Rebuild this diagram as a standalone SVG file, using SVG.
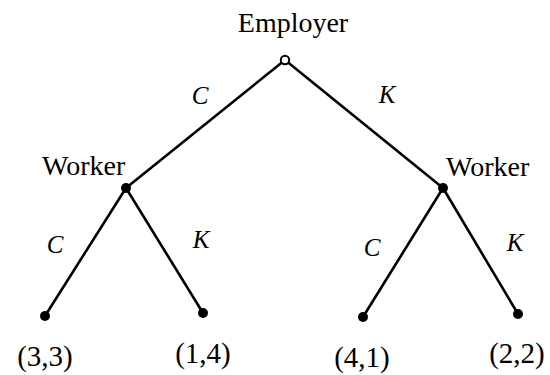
<svg xmlns="http://www.w3.org/2000/svg" width="550" height="375" viewBox="0 0 550 375">
<rect width="550" height="375" fill="#fff"/>
<g id="connectors" stroke="#000" stroke-width="2.6" fill="none">
<line x1="285" y1="60" x2="126" y2="188"/>
<line x1="285" y1="60" x2="443" y2="188"/>
<line x1="126" y1="188" x2="45" y2="316"/>
<line x1="126" y1="188" x2="203" y2="313"/>
<line x1="443" y1="188" x2="363" y2="317"/>
<line x1="443" y1="188" x2="518" y2="314"/>
</g>
<g id="edge-labels" font-family="Liberation Serif" font-size="25" font-style="italic" text-anchor="middle" fill="#000">
<text x="200" y="104">C</text>
<text x="387" y="103">K</text>
<text x="55" y="253">C</text>
<text x="201" y="248">K</text>
<text x="372" y="256">C</text>
<text x="515" y="251">K</text>
</g>
<g id="employer">
<circle cx="285" cy="60" r="4.2" fill="#fff" stroke="#000" stroke-width="2"/>
<text x="293" y="32" font-family="Liberation Serif" font-size="28" text-anchor="middle" fill="#000">Employer</text>
</g>
<g id="worker-left">
<circle cx="126" cy="188" r="5" fill="#000"/>
<text x="42" y="175" font-family="Liberation Serif" font-size="28" fill="#000">Worker</text>
</g>
<g id="worker-right">
<circle cx="443" cy="188" r="5" fill="#000"/>
<text x="446" y="176" font-family="Liberation Serif" font-size="28" fill="#000">Worker</text>
</g>
<g id="leaf-1">
<circle cx="45" cy="316" r="5" fill="#000"/>
<text x="45" y="366" font-family="Liberation Serif" font-size="29" text-anchor="middle" fill="#000">(3,3)</text>
</g>
<g id="leaf-2">
<circle cx="203" cy="313" r="5" fill="#000"/>
<text x="203" y="363" font-family="Liberation Serif" font-size="29" text-anchor="middle" fill="#000">(1,4)</text>
</g>
<g id="leaf-3">
<circle cx="363" cy="317" r="5" fill="#000"/>
<text x="362" y="367" font-family="Liberation Serif" font-size="29" text-anchor="middle" fill="#000">(4,1)</text>
</g>
<g id="leaf-4">
<circle cx="518" cy="314" r="5" fill="#000"/>
<text x="517" y="363" font-family="Liberation Serif" font-size="29" text-anchor="middle" fill="#000">(2,2)</text>
</g>
</svg>
